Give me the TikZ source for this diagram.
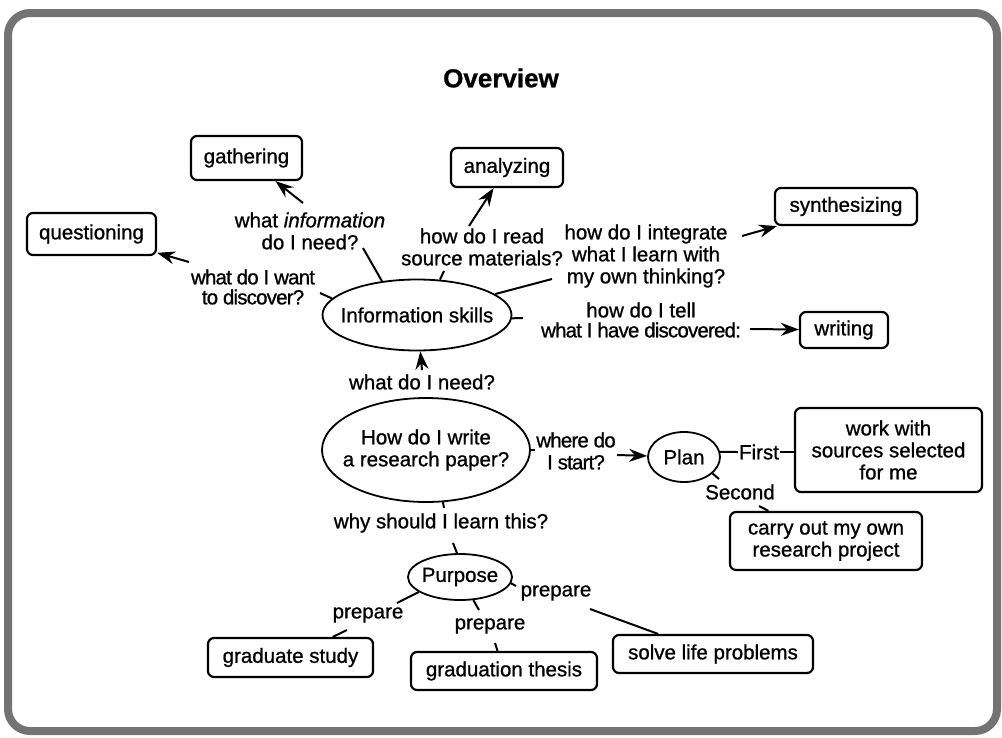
\documentclass[tikz,border=0pt]{standalone}
\usepackage{fontspec}
\setmainfont{Liberation Sans}[FakeBold=0.9]
\newfontfamily\tightfont[LetterSpace=-4,FakeBold=0.9]{Liberation Sans}
\usetikzlibrary{shapes.geometric,arrows.meta}
\begin{document}
\begin{tikzpicture}[x=1pt,y=-1pt,
  every node/.style={font=\fontsize{20.5}{22}\selectfont},
  box/.style={draw, rounded corners=6pt, line width=2.2pt, inner sep=0pt, align=center},
  ellip/.style={draw, ellipse, line width=1.8pt, inner sep=0pt},
  lbl/.style={inner sep=1pt, align=center},
  conn/.style={line width=2pt},
  arr/.style={conn, -{Stealth[length=18pt,width=13pt,inset=6pt]}}]
\useasboundingbox (0,0) rectangle (1002,737);
\draw[line width=8pt, black!55, rounded corners=22pt] (8,13) rectangle (997,731);

\node[font=\bfseries\fontsize{26}{28}\selectfont] (title) at (501,78) {Overview};

% boxes
\node[box, minimum width=111pt, minimum height=44pt] (gath) at (246.5,158) {gathering};
\node[box, minimum width=112pt, minimum height=39pt] (anal) at (507,167.5) {analyzing};
\node[box, minimum width=129pt, minimum height=42pt] (quest) at (91.5,234) {questioning};
\node[box, minimum width=142pt, minimum height=37pt] (synth) at (846,206.5) {synthesizing};
\node[box, minimum width=88pt, minimum height=36pt] (writ) at (844,330) {writing};
\node[box, minimum width=187pt, minimum height=84pt] (work) at (888.5,450) {work with\\sources selected\\for me};
\node[box, minimum width=192pt, minimum height=58pt] (carry) at (826,541) {carry out my own\\research project};
\node[box, minimum width=165pt, minimum height=39pt] (gstudy) at (290.5,657.5) {graduate study};
\node[box, minimum width=186pt, minimum height=38pt] (thesis) at (504,671) {graduation thesis};
\node[box, minimum width=200pt, minimum height=38pt] (solve) at (713,654) {solve life problems};

% ellipses
\node[ellip, minimum width=189pt, minimum height=71pt] (info) at (417,315) {};
\node[lbl] (infot) at (info.center) {Information skills};
\node[ellip, minimum width=208pt, minimum height=104pt] (how) at (426,450) {};
\node[lbl] (howt) at (how.center) {How do I write\\a research paper?};
\node[ellip, minimum width=72pt, minimum height=50pt] (plan) at (684,457) {};
\node[lbl] (plant) at (plan.center) {Plan};
\node[ellip, minimum width=104pt, minimum height=46pt] (purp) at (460,577) {};
\node[lbl] (purpt) at (purp.center) {Purpose};

% labels
\node[lbl] (lwhatinfo) at (310,231) {what \textit{information}\\do I need?};
\node[lbl, font=\tightfont\fontsize{20.5}{20}\selectfont] (lwant) at (253,287) {what do I want\\to discover?};
\node[lbl] (lread) at (482,247) {how do I read\\source materials?};
\node[lbl] (linteg) at (646,256) {how do I integrate\\what I learn with\\my own thinking?};
\node[lbl, font=\fontsize{20.5}{20}\selectfont] (ltell) at (641,320) {how do I tell\\{\tightfont what I have discovered:}};
\node[lbl] (lneed) at (422,382) {what do I need?};
\node[lbl] (lwhy) at (441,523) {why should I learn this?};
\node[lbl, font=\tightfont\fontsize{20.5}{22}\selectfont] (lstart) at (576,451) {where do\\I start?};
\node[lbl] (lfirst) at (759,452) {First};
\node[lbl] (lsecond) at (740,492) {Second};
\node[lbl] (lprep1) at (368,615) {prepare};
\node[lbl] (lprep2) at (490,626) {prepare};
\node[lbl] (lprep3) at (556,593) {prepare};

% free ends
\coordinate (tgath) at (303,203);
\coordinate (tquest) at (189,262);
\coordinate (tanal) at (469,226);
\coordinate (tsynth) at (742,236);
\coordinate (twrit) at (750,329);
\coordinate (tinfo) at (422,370);
\coordinate (tplan) at (617,455);
\coordinate (kneed) at (363,248);
\coordinate (kdisc) at (320,293);
\coordinate (kread) at (444,271);
\coordinate (kinteg) at (552,279);
\coordinate (ktell) at (523,318);
\coordinate (kstart) at (535,450);
\coordinate (kwhy) at (444,508);
\coordinate (ksec) at (719,479);
\coordinate (kcarry) at (759,506);
\coordinate (kptop) at (453,543);
\coordinate (kp1) at (397,603);
\coordinate (kg1) at (347,630);
\coordinate (kp2) at (479,610);
\coordinate (kg2) at (495,643);
\coordinate (kp3) at (516,586);
\coordinate (kg3) at (590,609);

% arrows
\draw[arr] (tgath) -- (gath);
\draw[arr] (tquest) -- (quest);
\draw[arr] (tanal) -- (anal);
\draw[arr] (tsynth) -- (synth);
\draw[arr] (twrit) -- (writ);
\draw[arr] (tinfo) -- (info);
\draw[arr] (tplan) -- (plan);

% plain connectors
\draw[conn] (info.136) -- (kneed);
\draw[conn] (info.169) -- (kdisc);
\draw[conn] (info.57) -- (kread);
\draw[conn] (info.15) -- (kinteg);
\draw[conn] (info.-2) -- (ktell);
\draw[conn] (how.0) -- (kstart);
\draw[conn] (how.-72) -- (kwhy);
\draw[conn] (plan.8) -- (lfirst.west);
\draw[conn] (lfirst.east) -- (work.west |- lfirst.east);
\draw[conn] (plan.-30) -- (ksec);
\draw[conn] (kcarry) -- (carry);
\draw[conn] (purp.97) -- (kptop);
\draw[conn] (purp.200) -- (kp1);
\draw[conn] (kg1) -- (gstudy);
\draw[conn] (purp.-60) -- (kp2);
\draw[conn] (kg2) -- (thesis);
\draw[conn] (purp.-7) -- (kp3);
\draw[conn] (kg3) -- (solve);
\end{tikzpicture}
\end{document}
